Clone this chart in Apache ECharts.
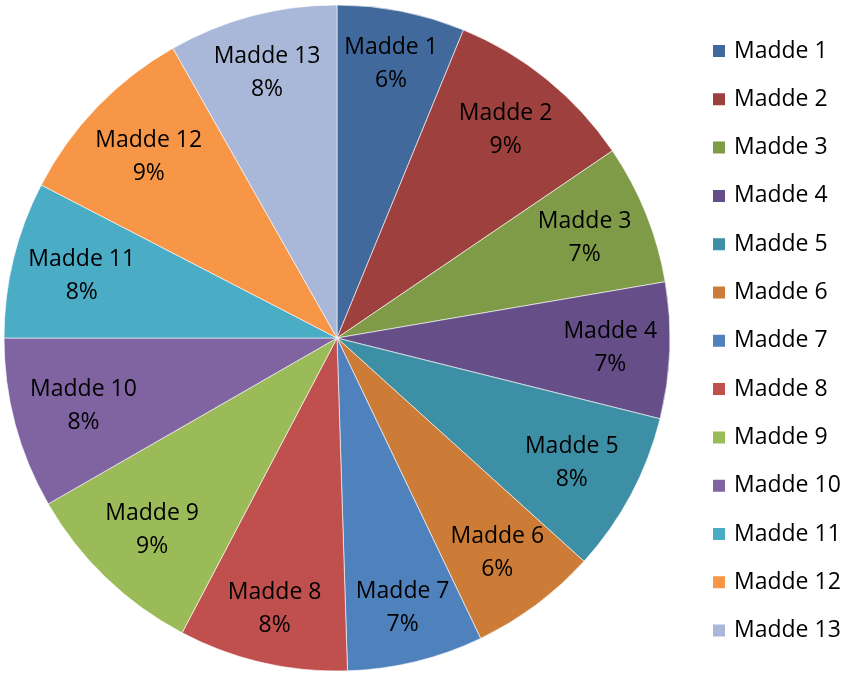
<!DOCTYPE html>
<html>
<head>
<meta charset="utf-8">
<script src="https://cdn.jsdelivr.net/npm/echarts@6/dist/echarts.min.js"></script>
<style>
  html, body { margin: 0; padding: 0; background: #fff; }
  #chart { width: 847px; height: 673px; }
</style>
</head>
<body>
<div id="chart"></div>
<script>
// data (shares in %)
var names = ['Madde 1', 'Madde 2', 'Madde 3', 'Madde 4', 'Madde 5', 'Madde 6', 'Madde 7',
  'Madde 8', 'Madde 9', 'Madde 10', 'Madde 11', 'Madde 12', 'Madde 13'];
var values = [6.2, 9.3, 6.8, 6.6, 7.8, 6.2, 6.6, 8.2, 9.0, 8.3, 7.6, 9.2, 8.2];
var colors = ['#41699b', '#9e413e', '#7f9b48', '#664f88', '#3c8fa4', '#cd7c37', '#4f81bd',
  '#c0504d', '#9bbb59', '#8064a2', '#4bacc6', '#f79646', '#a9b8d8'];

var total = values.reduce(function (a, b) { return a + b; }, 0);
var pieData = names.map(function (n, i) {
  return { name: n, value: values[i] };
});

// mid angle of each slice (clockwise from 12 o'clock), used for "best fit" labels
var midAngles = [];
var acc = 0;
values.forEach(function (v) {
  midAngles.push((acc + v / 2) / total * 2 * Math.PI);
  acc += v;
});

var CX = 337, CY = 338, R = 333;
var FIT = 323; // label box corner kept inside this radius, like Excel's best fit
var font = '"Open Sans", "Liberation Sans", sans-serif';

var chart = echarts.init(document.getElementById('chart'));

chart.setOption({
  animation: false,
  color: colors,
  legend: {
    orient: 'vertical',
    left: 706,
    top: 34,
    itemWidth: 14,
    itemHeight: 14,
    itemGap: 24.3,
    icon: 'rect',
    selectedMode: false,
    textStyle: { fontFamily: font, fontSize: 23, color: '#000', lineHeight: 24, padding: [0, 0, 0, 3] },
    data: names
  },
  series: [
    {
      type: 'pie',
      center: [CX, CY],
      radius: [0, R],
      startAngle: 90,
      clockwise: true,
      avoidLabelOverlap: false,
      itemStyle: { borderColor: '#ffffff', borderWidth: 0.6 },
      emphasis: { disabled: true },
      label: {
        show: true,
        position: 'inside',
        fontFamily: font,
        fontSize: 23,
        lineHeight: 33,
        color: '#000',
        formatter: function (p) {
          return p.name + '\n' + Math.round(p.value / total * 100) + '%';
        }
      },
      labelLine: { show: false },
      labelLayout: function (p) {
        var a = midAngles[p.dataIndex];
        var ux = Math.sin(a), uy = -Math.cos(a);
        var w = p.labelRect.width, h = p.labelRect.height;
        var b = Math.abs(ux) * w + Math.abs(uy) * h;
        var c = (w * w + h * h) / 4 - FIT * FIT;
        var d = (-b + Math.sqrt(b * b - 4 * c)) / 2;
        return {
          x: CX + d * ux,
          y: CY + d * uy,
          align: 'center',
          verticalAlign: 'middle'
        };
      },
      data: pieData
    }
  ]
});
</script>
</body>
</html>
